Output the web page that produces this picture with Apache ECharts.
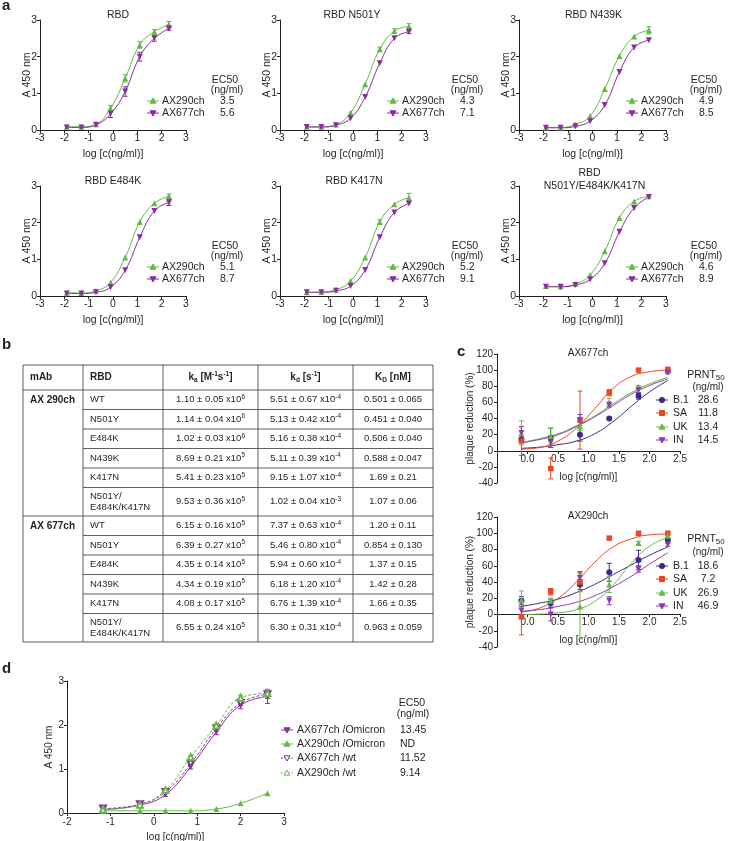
<!DOCTYPE html>
<html>
<head>
<meta charset="utf-8">
<script src="https://cdn.jsdelivr.net/npm/echarts@6/dist/echarts.min.js"></script>
<style>
  html, body { margin: 0; padding: 0; background: #fff; }
  #fig { width: 729px; height: 841px; }
</style>
</head>
<body>
<div id="fig"></div>
<script>
// ---------- panel a : ELISA, A450 vs log conc ----------
var aX = [-1.9, -1.3, -0.7, -0.1, 0.5, 1.1, 1.7, 2.3];
var aTitles = ['RBD', 'RBD N501Y', 'RBD N439K', 'RBD E484K', 'RBD K417N', 'RBD\nN501Y/E484K/K417N'];
var aEc290 = ['3.5', '4.3', '4.9', '5.1', '5.2', '4.6'];
var aEc677 = ['5.6', '7.1', '8.5', '8.7', '9.1', '8.9'];

var a290_RBD   = [0.09, 0.09, 0.16, 0.59, 1.41, 2.32, 2.68, 2.88];
var a677_RBD   = [0.07, 0.07, 0.14, 0.44, 1.05, 2.00, 2.50, 2.77];
var a290_N501Y = [0.09, 0.09, 0.15, 0.47, 1.25, 2.20, 2.70, 2.82];
var a677_N501Y = [0.08, 0.08, 0.13, 0.32, 0.90, 1.82, 2.50, 2.68];
var a290_N439K = [0.07, 0.07, 0.15, 0.38, 1.12, 2.02, 2.55, 2.72];
var a677_N439K = [0.06, 0.06, 0.10, 0.24, 0.68, 1.58, 2.25, 2.45];
var a290_E484K = [0.09, 0.08, 0.14, 0.37, 1.05, 2.02, 2.53, 2.72];
var a677_E484K = [0.07, 0.07, 0.10, 0.24, 0.70, 1.60, 2.32, 2.55];
var a290_K417N = [0.10, 0.11, 0.17, 0.41, 1.05, 2.02, 2.50, 2.68];
var a677_K417N = [0.10, 0.10, 0.14, 0.27, 0.71, 1.60, 2.28, 2.52];
var a290_Trip  = [0.27, 0.26, 0.33, 0.57, 1.22, 2.13, 2.58, 2.72];
var a677_Trip  = [0.25, 0.25, 0.30, 0.45, 0.89, 1.75, 2.40, 2.70];

var e290_RBD   = [0.02, 0.02, 0.03, 0.08, 0.10, 0.09, 0.06, 0.08];
var e677_RBD   = [0.02, 0.02, 0.04, 0.10, 0.13, 0.12, 0.08, 0.05];
var e290_N501Y = [0.02, 0.02, 0.02, 0.03, 0.03, 0.06, 0.06, 0.08];
var e677_N501Y = [0.01, 0.01, 0.02, 0.03, 0.03, 0.03, 0.03, 0.05];
var e290_N439K = [0.02, 0.02, 0.02, 0.02, 0.03, 0.03, 0.03, 0.10];
var e677_N439K = [0.01, 0.01, 0.02, 0.02, 0.03, 0.04, 0.03, 0.04];
var e290_E484K = [0.02, 0.02, 0.02, 0.03, 0.03, 0.03, 0.03, 0.06];
var e677_E484K = [0.01, 0.01, 0.02, 0.02, 0.03, 0.04, 0.04, 0.08];
var e290_K417N = [0.02, 0.02, 0.03, 0.03, 0.03, 0.06, 0.03, 0.12];
var e677_K417N = [0.01, 0.01, 0.02, 0.02, 0.03, 0.04, 0.04, 0.04];
var e290_Trip  = [0.02, 0.02, 0.02, 0.03, 0.03, 0.03, 0.03, 0.03];
var e677_Trip  = [0.01, 0.01, 0.02, 0.02, 0.03, 0.03, 0.03, 0.03];

// ---------- panel b : kinetics table ----------
var rbdRows = ['WT', 'N501Y', 'E484K', 'N439K', 'K417N', 'N501Y/\nE484K/K417N'];
var ka290 = ['1.10 ± 0.05', '1.14 ± 0.04', '1.02 ± 0.03', '8.69 ± 0.21', '5.41 ± 0.23', '9.53 ± 0.36'];
var ka290Exp = ['6', '6', '6', '5', '5', '5'];
var kd290 = ['5.51 ± 0.67', '5.13 ± 0.42', '5.16 ± 0.38', '5.11 ± 0.39', '9.15 ± 1.07', '1.02 ± 0.04'];
var kd290Exp = ['-4', '-4', '-4', '-4', '-4', '-3'];
var KD290 = ['0.501 ± 0.065', '0.451 ± 0.040', '0.506 ± 0.040', '0.588 ± 0.047', '1.69 ± 0.21', '1.07 ± 0.06'];
var ka677 = ['6.15 ± 0.16', '6.39 ± 0.27', '4.35 ± 0.14', '4.34 ± 0.19', '4.08 ± 0.17', '6.55 ± 0.24'];
var ka677Exp = ['5', '5', '5', '5', '5', '5'];
var kd677 = ['7.37 ± 0.63', '5.46 ± 0.80', '5.94 ± 0.60', '6.18 ± 1.20', '6.76 ± 1.39', '6.30 ± 0.31'];
var kd677Exp = ['-4', '-4', '-4', '-4', '-4', '-4'];
var KD677 = ['1.20 ± 0.11', '0.854 ± 0.130', '1.37 ± 0.15', '1.42 ± 0.28', '1.66 ± 0.35', '0.963 ± 0.059'];

// ---------- panel c : PRNT ----------
var cX = [-0.1, 0.38, 0.86, 1.34, 1.82, 2.3];
var cFitX = [-0.1, 0.2, 0.5, 0.8, 1.1, 1.4, 1.7, 2.0, 2.3];
var cNames = ['B.1', 'SA', 'UK', 'IN'];
var c677Prnt = ['28.6', '11.8', '13.4', '14.5'];
var c290Prnt = ['18.6', '7.2', '26.9', '46.9'];

var c677_B1 = [14, 16, 20, 40, 68, 98];
var c677_SA = [12, -22, 38, 72, 100, 101];
var c677_UK = [22, 18, 30, 60, 79, 99];
var c677_IN = [22, 10, 38, 57, 75, 97];
var c677_B1e = [3, 12, 8, 1, 4, 1];
var c677_SAe = [18, 13, 36, 4, 1, 1];
var c677_UKe = [15, 10, 5, 5, 2, 1];
var c677_INe = [8, 6, 7, 3, 4, 1];
var c677fit_B1 = [3, 4.5, 7.5, 12, 21, 36, 55, 73, 87];
var c677fit_SA = [2, 4, 12, 28, 52, 77, 92, 98, 100];
var c677fit_UK = [10, 15, 21, 31, 43, 58, 72, 83, 91];
var c677fit_IN = [10, 14, 20, 30, 42, 56, 70, 81, 89];

var c290_B1 = [17, 14, 37, 52, 67, 92];
var c290_SA = [-3, 28, 40, 94, 100, 100];
var c290_UK = [18, 17, 10, 37, 88, 97];
var c290_IN = [5, 0, 45, 17, 56, 86];
var c290_B1e = [5, 5, 6, 11, 12, 3];
var c290_SAe = [22, 4, 12, 1, 1, 1];
var c290_UKe = [11, 3, 40, 10, 2, 1];
var c290_INe = [5, 8, 8, 5, 4, 2];
var c290fit_B1 = [10, 14, 19, 27, 37, 49, 61, 73, 83];
var c290fit_SA = [3, 8, 20, 40, 64, 83, 93, 98, 99];
var c290fit_UK = [0, 0.5, 2, 6, 16, 36, 63, 84, 95];
var c290fit_IN = [4, 6, 10, 15, 23, 34, 47, 62, 76];

// ---------- panel d : Omicron ELISA ----------
var dX = [-1.17, -0.32, 0.27, 0.85, 1.44, 2.0, 2.62];
var dNames = ['AX677ch /Omicron', 'AX290ch /Omicron', 'AX677ch /wt', 'AX290ch /wt'];
var dEc50 = ['13.45', 'ND', '11.52', '9.14'];
var d677om = [0.08, 0.18, 0.42, 1.05, 1.84, 2.45, 2.65];
var d290om = [0.05, 0.05, 0.05, 0.05, 0.09, 0.22, 0.45];
var d677wt = [0.10, 0.20, 0.48, 1.12, 1.92, 2.50, 2.70];
var d290wt = [0.08, 0.19, 0.52, 1.27, 1.99, 2.62, 2.72];
var d677omE = [0.02, 0.02, 0.04, 0.05, 0.06, 0.08, 0.16];
var d290omE = [0.01, 0.01, 0.01, 0.01, 0.01, 0.02, 0.02];
var d677wtE = [0.02, 0.02, 0.03, 0.04, 0.05, 0.06, 0.10];
var d290wtE = [0.02, 0.02, 0.03, 0.04, 0.05, 0.06, 0.08];

// ---------- styling ----------
var FONT = '"Liberation Sans", Arial, Helvetica, sans-serif';
var INK = '#231f20';
var GREEN = '#62bb46';
var PURPLE = '#8b2d9e';
var cColors = ['#3b2a8c', '#ee4623', '#66bb46', '#8f3bb0'];
var cShapes = ['circle', 'square', 'up', 'down'];

function zip(xs, ys) { return xs.map(function (x, i) { return [x, ys[i]]; }); }

function txt(x, y, s, o) {
  o = o || {};
  return {
    type: 'text', x: x, y: y, silent: true, z: 10,
    rotation: o.rot || 0,
    style: {
      text: s, fill: INK, fontFamily: FONT, fontSize: o.size || 10.5,
      fontWeight: o.bold ? 'bold' : 'normal',
      textAlign: o.align || 'left', textVerticalAlign: 'middle',
      align: o.align || 'left', verticalAlign: 'middle',
      lineHeight: o.lh, rich: o.rich
    }
  };
}

function marker(shape, cx, cy, color, empty) {
  var fill = empty ? '#fff' : color;
  var st = { fill: fill, stroke: color, lineWidth: 1 };
  if (shape === 'circle') return { type: 'circle', shape: { cx: cx, cy: cy, r: 2.6 }, style: st, z: 11 };
  if (shape === 'square') return { type: 'rect', shape: { x: cx - 2.5, y: cy - 2.5, width: 5, height: 5 }, style: st, z: 11 };
  var pts = shape === 'up'
    ? [[cx, cy - 3], [cx - 3, cy + 2.2], [cx + 3, cy + 2.2]]
    : [[cx, cy + 3], [cx - 3, cy - 2.2], [cx + 3, cy - 2.2]];
  return { type: 'polygon', shape: { points: pts }, style: st, z: 11 };
}

function legendRow(cx, y, color, shape, empty, dash, label, labelX, value, valueX, size, valAlign) {
  return [
    { type: 'line', z: 10, shape: { x1: cx - 6, y1: y, x2: cx + 6, y2: y },
      style: { stroke: color, lineWidth: 1, lineDash: dash ? [2, 1.5] : null } },
    marker(shape, cx, y, color, empty),
    txt(labelX, y, label, { size: size }),
    txt(valueX, y, value, { size: size, align: valAlign || 'left' })
  ];
}

function xAxisA(i) {
  return {
    type: 'value', gridIndex: i, min: -3, max: 3, interval: 1,
    splitLine: { show: false },
    axisLine: { show: true, onZero: false, lineStyle: { color: INK, width: 1 } },
    axisTick: { show: true, length: 3, lineStyle: { color: INK } },
    axisLabel: { color: INK, fontSize: 10.5, fontFamily: FONT, margin: 3 },
    name: 'log [c(ng/ml)]', nameLocation: 'middle', nameGap: 19, nameMoveOverlap: false,
    nameTextStyle: { color: INK, fontSize: 10.5, fontFamily: FONT }
  };
}
function yAxisA(i) {
  return {
    type: 'value', gridIndex: i, min: 0, max: 3, interval: 1,
    splitLine: { show: false },
    axisLine: { show: true, onZero: false, lineStyle: { color: INK, width: 1 } },
    axisTick: { show: true, length: 3, lineStyle: { color: INK } },
    axisLabel: { color: INK, fontSize: 10.5, fontFamily: FONT, margin: 3 },
    name: 'A 450 nm', nameLocation: 'middle', nameGap: 7, nameMoveOverlap: false,
    nameTextStyle: { color: INK, fontSize: 10.5, fontFamily: FONT }
  };
}
function xAxisC(i) {
  // x axis drawn at y = 0 : 40 of 160 units above the bottom edge
  return {
    type: 'value', gridIndex: i, min: -0.5, max: 2.5, interval: 0.5,
    offset: -Math.round(grids[i].height * 40 / 160),
    splitLine: { show: false },
    axisLine: { show: true, onZero: false, lineStyle: { color: INK, width: 1 } },
    axisTick: { show: true, length: 3, lineStyle: { color: INK } },
    axisLabel: { color: INK, fontSize: 10, fontFamily: FONT, margin: 3,
      formatter: function (v) { return v < -0.2 ? '' : v.toFixed(1); } },
    name: 'log [c(ng/ml)]', nameLocation: 'middle', nameGap: 21, nameMoveOverlap: false,
    nameTextStyle: { color: INK, fontSize: 10, fontFamily: FONT }
  };
}
function yAxisC(i) {
  return {
    type: 'value', gridIndex: i, min: -40, max: 120, interval: 20,
    splitLine: { show: false },
    axisLine: { show: true, onZero: false, lineStyle: { color: INK, width: 1 } },
    axisTick: { show: true, length: 3, lineStyle: { color: INK } },
    axisLabel: { color: INK, fontSize: 10, fontFamily: FONT, margin: 4 },
    name: 'plaque reduction (%)', nameLocation: 'middle', nameGap: 22, nameMoveOverlap: false,
    nameTextStyle: { color: INK, fontSize: 10, fontFamily: FONT }
  };
}

function lineSer(i, xs, ys, color, shape, empty, dash) {
  return {
    type: 'line', xAxisIndex: i, yAxisIndex: i, data: zip(xs, ys),
    smooth: 0.45, silent: true, z: 4,
    symbol: empty ? 'emptyTriangle' : 'triangle', symbolSize: 6,
    symbolRotate: shape === 'down' ? 180 : 0,
    lineStyle: { color: color, width: 1, type: dash ? [3, 2] : 'solid' },
    itemStyle: { color: color, borderColor: color, borderWidth: empty ? 1 : 0 }
  };
}
function curveSer(i, xs, ys, color) {
  return {
    type: 'line', xAxisIndex: i, yAxisIndex: i, data: zip(xs, ys),
    smooth: 0.5, showSymbol: false, symbol: 'none', silent: true, z: 3,
    lineStyle: { color: color, width: 1 }
  };
}
function pointSer(i, xs, ys, color, shape) {
  var sym = { circle: 'circle', square: 'rect', up: 'triangle', down: 'triangle' }[shape];
  return {
    type: 'scatter', xAxisIndex: i, yAxisIndex: i, data: zip(xs, ys), silent: true, z: 5,
    symbol: sym, symbolSize: shape === 'square' ? 5.5 : 6, symbolRotate: shape === 'down' ? 180 : 0,
    itemStyle: { color: color, opacity: 1 }
  };
}
function errSer(i, xs, ys, es, color) {
  return {
    type: 'custom', xAxisIndex: i, yAxisIndex: i, silent: true, z: 4,
    data: xs.map(function (x, k) { return [x, ys[k], es[k]]; }),
    encode: { x: 0, y: 1 },
    renderItem: function (params, api) {
      var x = api.value(0), y = api.value(1), e = api.value(2);
      var hi = api.coord([x, y + e]), lo = api.coord([x, y - e]);
      if (Math.abs(lo[1] - hi[1]) < 3) return { type: 'group', children: [] };
      var w = 2.5, st = { stroke: color, lineWidth: 1 };
      return { type: 'group', children: [
        { type: 'line', shape: { x1: hi[0], y1: hi[1], x2: lo[0], y2: lo[1] }, style: st },
        { type: 'line', shape: { x1: hi[0] - w, y1: hi[1], x2: hi[0] + w, y2: hi[1] }, style: st },
        { type: 'line', shape: { x1: lo[0] - w, y1: lo[1], x2: lo[0] + w, y2: lo[1] }, style: st }
      ] };
    }
  };
}

// ---------- layout ----------
var grids = [
  { left: 40, top: 20, width: 146, height: 110 },
  { left: 280, top: 20, width: 146, height: 110 },
  { left: 519, top: 20, width: 147, height: 110 },
  { left: 40, top: 186, width: 146, height: 110 },
  { left: 280, top: 186, width: 146, height: 110 },
  { left: 519, top: 186, width: 147, height: 110 },
  { left: 497, top: 354, width: 183, height: 129 },
  { left: 497, top: 517, width: 183, height: 130 },
  { left: 67, top: 681, width: 217, height: 132 }
];
grids.forEach(function (g) { g.containLabel = false; g.outerBoundsMode = 'none'; });
var titleDx = [5, -1, 1, 0, 1, 2];

var xAxes = [], yAxes = [], series = [], G = [];
var a290 = [a290_RBD, a290_N501Y, a290_N439K, a290_E484K, a290_K417N, a290_Trip];
var a677 = [a677_RBD, a677_N501Y, a677_N439K, a677_E484K, a677_K417N, a677_Trip];
var e290 = [e290_RBD, e290_N501Y, e290_N439K, e290_E484K, e290_K417N, e290_Trip];
var e677 = [e677_RBD, e677_N501Y, e677_N439K, e677_E484K, e677_K417N, e677_Trip];

for (var i = 0; i < 6; i++) {
  xAxes.push(xAxisA(i));
  yAxes.push(yAxisA(i));
  series.push(lineSer(i, aX, a290[i], GREEN, 'up', false, false));
  series.push(lineSer(i, aX, a677[i], PURPLE, 'down', false, false));
  series.push(errSer(i, aX, a290[i], e290[i], GREEN));
  series.push(errSer(i, aX, a677[i], e677[i], PURPLE));
  var L = grids[i].left, T = grids[i].top, cxm = L + grids[i].width / 2 + titleDx[i];
  if (i === 5) {
    G.push(txt(cxm - 5, T - 13, 'RBD', { align: 'center' }));
    G.push(txt(cxm, T, 'N501Y/E484K/K417N', { align: 'center' }));
  } else {
    G.push(txt(cxm, T - 5, aTitles[i], { align: 'center' }));
  }
  G.push(txt(L + 185, T + 60, 'EC50', { align: 'center' }));
  G.push(txt(L + 187, T + 70, '(ng/ml)', { align: 'center' }));
  G = G.concat(legendRow(L + 113, T + 81, GREEN, 'up', false, false, 'AX290ch', L + 122, aEc290[i], L + 180));
  G = G.concat(legendRow(L + 113, T + 93, PURPLE, 'down', false, false, 'AX677ch', L + 122, aEc677[i], L + 180));
}

// panel c
var cTitles = ['AX677ch', 'AX290ch'];
var cPts = [[c677_B1, c677_SA, c677_UK, c677_IN], [c290_B1, c290_SA, c290_UK, c290_IN]];
var cErr = [[c677_B1e, c677_SAe, c677_UKe, c677_INe], [c290_B1e, c290_SAe, c290_UKe, c290_INe]];
var cFit = [[c677fit_B1, c677fit_SA, c677fit_UK, c677fit_IN], [c290fit_B1, c290fit_SA, c290fit_UK, c290fit_IN]];
var cPrnt = [c677Prnt, c290Prnt];
for (var p = 0; p < 2; p++) {
  var gi = 6 + p;
  xAxes.push(xAxisC(gi));
  yAxes.push(yAxisC(gi));
  for (var s = 0; s < 4; s++) {
    series.push(curveSer(gi, cFitX, cFit[p][s], cColors[s]));
    series.push(errSer(gi, cX, cPts[p][s], cErr[p][s], cColors[s]));
    series.push(pointSer(gi, cX, cPts[p][s], cColors[s], cShapes[s]));
  }
  var T2 = grids[gi].top;
  G.push(txt(588, T2 - 1, cTitles[p], { align: 'center', size: 10 }));
  var ly = p === 0 ? [375, 387, 400, 413, 427, 440] : [539, 552, 566, 579, 593, 606];
  G.push(txt(706, ly[0], '{n|PRNT}{s|50}', { align: 'center', size: 10,
    rich: { n: { fontSize: 10.5, fontFamily: FONT, fill: INK, lineHeight: 14 },
            s: { fontSize: 8, fontFamily: FONT, fill: INK, lineHeight: 6, verticalAlign: 'bottom' } } }));
  G.push(txt(708, ly[1], '(ng/ml)', { align: 'center', size: 10 }));
  for (var s2 = 0; s2 < 4; s2++) {
    G = G.concat(legendRow(662, ly[2 + s2], cColors[s2], cShapes[s2], false, false,
      cNames[s2], 673, cPrnt[p][s2], 708, 10.5, 'center'));
  }
}

// panel d
xAxes.push({
  type: 'value', gridIndex: 8, min: -2, max: 3, interval: 1,
  splitLine: { show: false },
  axisLine: { show: true, onZero: false, lineStyle: { color: INK, width: 1 } },
  axisTick: { show: true, length: 3, lineStyle: { color: INK } },
  axisLabel: { color: INK, fontSize: 10, fontFamily: FONT, margin: 4 },
  name: 'log [c(ng/ml)]', nameLocation: 'middle', nameGap: 19, nameMoveOverlap: false,
  nameTextStyle: { color: INK, fontSize: 10, fontFamily: FONT }
});
yAxes.push({
  type: 'value', gridIndex: 8, min: 0, max: 3, interval: 1,
  splitLine: { show: false },
  axisLine: { show: true, onZero: false, lineStyle: { color: INK, width: 1 } },
  axisTick: { show: true, length: 3, lineStyle: { color: INK } },
  axisLabel: { color: INK, fontSize: 10, fontFamily: FONT, margin: 3 },
  name: 'A 450 nm', nameLocation: 'middle', nameGap: 13, nameMoveOverlap: false,
  nameTextStyle: { color: INK, fontSize: 10, fontFamily: FONT }
});
var dYs = [d677om, d290om, d677wt, d290wt];
var dEs = [d677omE, d290omE, d677wtE, d290wtE];
var dCol = [PURPLE, GREEN, PURPLE, GREEN];
var dShape = ['down', 'up', 'down', 'up'];
var dEmpty = [false, false, true, true];
var dRowY = [730, 744, 758, 773];
for (var k = 0; k < 4; k++) {
  series.push(lineSer(8, dX, dYs[k], dCol[k], dShape[k], dEmpty[k], dEmpty[k]));
  series.push(errSer(8, dX, dYs[k], dEs[k], dCol[k]));
  G = G.concat(legendRow(287, dRowY[k], dCol[k], dShape[k], dEmpty[k], dEmpty[k], dNames[k], 297, dEc50[k], 400, 10.5));
}
G.push(txt(412, 703, 'EC50', { align: 'center' }));
G.push(txt(413, 714, '(ng/ml)', { align: 'center' }));

// panel b table
var colX = [23, 83, 163, 258, 353, 433];
var rowY = [365, 390, 409.5, 429, 448.5, 468, 487.5, 516, 535.5, 555, 574.5, 594, 613.5, 642];
var LINE = { stroke: '#4d4d4d', lineWidth: 0.9 };
function hline(x1, x2, y) { return { type: 'line', silent: true, shape: { x1: x1, y1: y, x2: x2, y2: y }, style: LINE }; }
function vline(x, y1, y2) { return { type: 'line', silent: true, shape: { x1: x, y1: y1, x2: x, y2: y2 }, style: LINE }; }
rowY.forEach(function (y, r) {
  var full = (r === 0 || r === 1 || r === 7 || r === rowY.length - 1);
  G.push(hline(full ? colX[0] : colX[1], colX[5], y));
});
colX.forEach(function (x) { G.push(vline(x, rowY[0], rowY[rowY.length - 1])); });

var TS = 9.5;
var richVal = {
  n: { fontSize: TS, fontFamily: FONT, fill: INK, lineHeight: 13 },
  s: { fontSize: 6.5, fontFamily: FONT, fill: INK, lineHeight: 5, verticalAlign: 'top' }
};
var richHead = {
  b: { fontSize: 10, fontWeight: 'bold', fontFamily: FONT, fill: INK, lineHeight: 13 },
  sb: { fontSize: 6.5, fontWeight: 'bold', fontFamily: FONT, fill: INK, lineHeight: 5, verticalAlign: 'bottom' },
  sp: { fontSize: 6.5, fontWeight: 'bold', fontFamily: FONT, fill: INK, lineHeight: 5, verticalAlign: 'top' }
};
var cMid = [(colX[2] + colX[3]) / 2, (colX[3] + colX[4]) / 2, (colX[4] + colX[5]) / 2];
var hy = (rowY[0] + rowY[1]) / 2;
G.push(txt(30, hy, 'mAb', { bold: true, size: 10 }));
G.push(txt(90, hy, 'RBD', { bold: true, size: 10 }));
G.push(txt(cMid[0], hy, '{b|k}{sb|a}{b| [M}{sp|-1}{b|s}{sp|-1}{b|]}', { align: 'center', rich: richHead }));
G.push(txt(cMid[1], hy, '{b|k}{sb|d}{b| [s}{sp|-1}{b|]}', { align: 'center', rich: richHead }));
G.push(txt(cMid[2], hy, '{b|K}{sb|D}{b| [nM]}', { align: 'center', rich: richHead }));

var groups = [
  { name: 'AX 290ch', ka: ka290, kaE: ka290Exp, kd: kd290, kdE: kd290Exp, KD: KD290, start: 1 },
  { name: 'AX 677ch', ka: ka677, kaE: ka677Exp, kd: kd677, kdE: kd677Exp, KD: KD677, start: 7 }
];
groups.forEach(function (g) {
  G.push(txt(30, (rowY[g.start] + rowY[g.start + 1]) / 2, g.name, { bold: true, size: 10 }));
  for (var r = 0; r < 6; r++) {
    var yc = (rowY[g.start + r] + rowY[g.start + r + 1]) / 2;
    G.push(txt(90, yc, rbdRows[r], { size: TS, lh: 11 }));
    G.push(txt(cMid[0], yc, '{n|' + g.ka[r] + ' x10}{s|' + g.kaE[r] + '}', { align: 'center', rich: richVal }));
    G.push(txt(cMid[1], yc, '{n|' + g.kd[r] + ' x10}{s|' + g.kdE[r] + '}', { align: 'center', rich: richVal }));
    G.push(txt(cMid[2], yc, g.KD[r], { align: 'center', size: TS }));
  }
});

// panel letters
G.push(txt(2, 6, 'a', { bold: true, size: 15 }));
G.push(txt(2, 345, 'b', { bold: true, size: 15 }));
G.push(txt(457, 352, 'c', { bold: true, size: 15 }));
G.push(txt(2, 669, 'd', { bold: true, size: 15 }));

var chart = echarts.init(document.getElementById('fig'));
chart.setOption({
  animation: false,
  backgroundColor: '#fff',
  textStyle: { fontFamily: FONT },
  grid: grids,
  xAxis: xAxes,
  yAxis: yAxes,
  series: series,
  graphic: { elements: G }
});
</script>
</body>
</html>
